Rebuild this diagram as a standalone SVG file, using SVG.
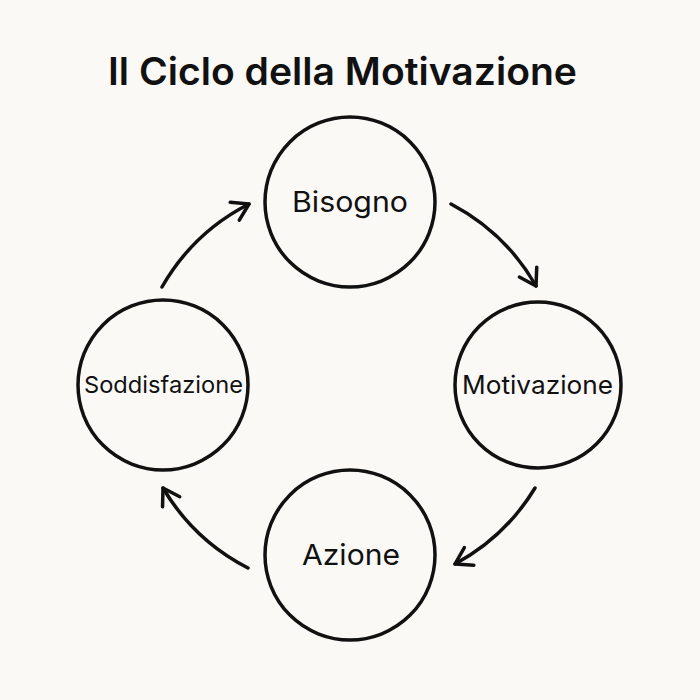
<svg xmlns="http://www.w3.org/2000/svg" width="700" height="700" viewBox="0 0 700 700">
<defs>
<style>
.node{fill:none;stroke:#111;stroke-width:3.5}
.lbl{font-family:Inter,"Noto Sans",sans-serif;fill:#111;text-anchor:middle}
.conn{fill:none;stroke:#111;stroke-width:3.5;stroke-linecap:round}
</style>
<marker id="ah" viewBox="0 0 24 24" refX="20" refY="12" markerWidth="24" markerHeight="24" markerUnits="userSpaceOnUse" orient="auto">
<path d="M4,2 L20,12 L4,22" fill="none" stroke="#111" stroke-width="3.5" stroke-linecap="round" stroke-linejoin="round"/>
</marker>
</defs>
<rect width="700" height="700" fill="#faf9f6"/>
<text class="lbl" x="342.5" y="85" font-size="38" font-weight="600" textLength="469" lengthAdjust="spacingAndGlyphs">Il Ciclo della Motivazione</text>
<g id="bisogno"><circle class="node" cx="350" cy="202" r="85"/><text class="lbl" x="350" y="212" font-size="28.5" textLength="116" lengthAdjust="spacingAndGlyphs">Bisogno</text></g>
<g id="motivazione"><circle class="node" cx="538" cy="385" r="83"/><text class="lbl" x="537.5" y="394" font-size="25.5" textLength="151" lengthAdjust="spacingAndGlyphs">Motivazione</text></g>
<g id="azione"><circle class="node" cx="350" cy="555" r="85"/><text class="lbl" x="351" y="565" font-size="29" textLength="98" lengthAdjust="spacingAndGlyphs">Azione</text></g>
<g id="soddisfazione"><circle class="node" cx="163" cy="385" r="85"/><text class="lbl" x="163.5" y="393" font-size="23" textLength="159" lengthAdjust="spacingAndGlyphs">Soddisfazione</text></g>
<g id="connectors">
<path class="conn" d="M162,287 A210,210 0 0 1 249,204" marker-end="url(#ah)"/>
<path class="conn" d="M451,204 A210,210 0 0 1 536,286" marker-end="url(#ah)"/>
<path class="conn" d="M535,488 A210,210 0 0 1 455,564" marker-end="url(#ah)"/>
<path class="conn" d="M248,568 A210,210 0 0 1 163,488" marker-end="url(#ah)"/>
</g>
</svg>
